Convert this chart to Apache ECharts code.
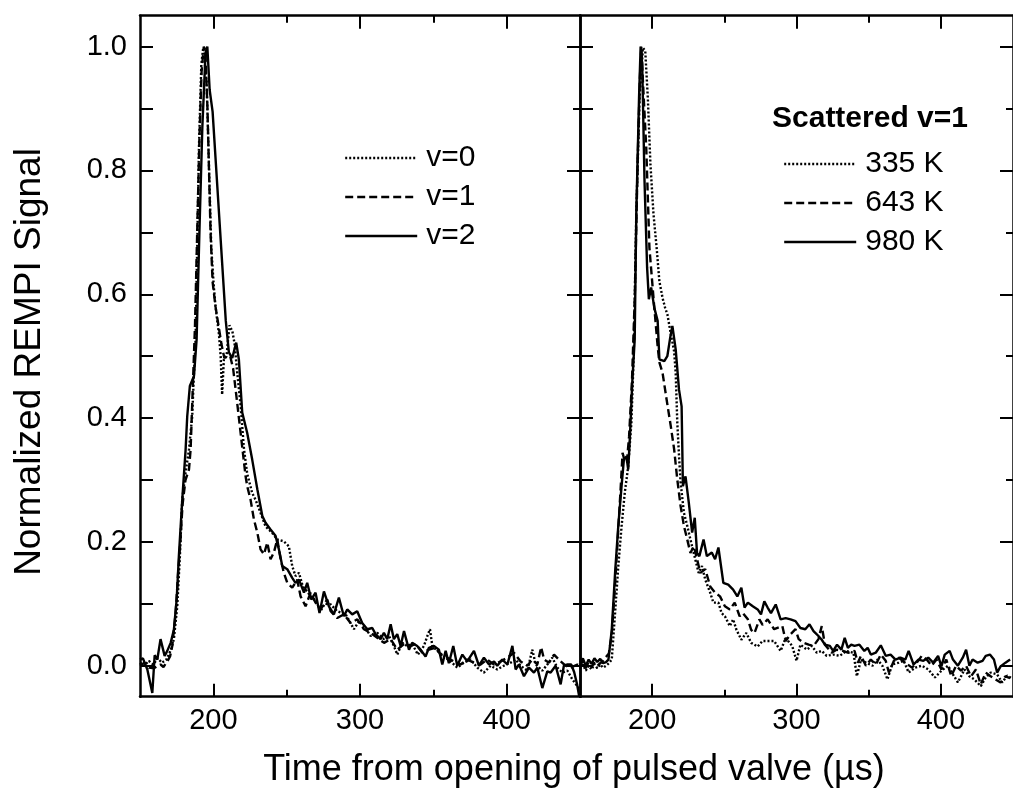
<!DOCTYPE html>
<html>
<head>
<meta charset="utf-8">
<script src="https://cdn.jsdelivr.net/npm/echarts@6/dist/echarts.min.js"></script>
<style>html,body{margin:0;padding:0;background:#fff}#c{width:1013px;height:796px}</style>
</head>
<body>
<div id="c"></div>
<script>
// ---------- axis ranges & ticks ----------
const xRange = [150, 450];
const yRange = [-0.05, 1.05];
const xMajorTicks = [200, 300, 400];
const xMinorTicks = [250, 350];
const yAllTicks = [0, 0.1, 0.2, 0.3, 0.4, 0.5, 0.6, 0.7, 0.8, 0.9, 1.0];
const yMajorTicks = [0, 0.2, 0.4, 0.6, 0.8, 1.0];
const yMinorTicks = [0.1, 0.3, 0.5, 0.7, 0.9];

// ---------- labels ----------
const leftNames = ['v=0', 'v=1', 'v=2'];
const rightNames = ['335 K', '643 K', '980 K'];
const rightLegendTitle = 'Scattered v=1';
const xTitle = 'Time from opening of pulsed valve (µs)';
const yTitle = 'Normalized REMPI Signal';

// ---------- left panel data [time µs, signal] ----------
const leftV0 = [[150,0.005],[153,0.0],[156,0.008],[159,0.002],[162,0.012],[165,0.005],[168,0.01],[171,0.025],[173.1,0.043],[175.4,0.096],[177.2,0.177],[178.8,0.268],[181,0.311],[183.4,0.349],[185.6,0.403],[186.8,0.473],[187.9,0.527],[189,0.675],[190.2,0.837],[191.8,0.971],[193.1,0.998],[194.3,1.0],[195.4,0.944],[197,0.81],[198.6,0.675],[200.4,0.61],[201.5,0.58],[203.8,0.536],[205,0.50],[206,0.438],[207.2,0.495],[209,0.50],[211,0.55],[213,0.54],[214.5,0.52],[216.3,0.473],[218.6,0.42],[220.9,0.35],[223.1,0.31],[226.5,0.279],[228.8,0.268],[232.2,0.247],[235.6,0.225],[240,0.215],[243.6,0.204],[248,0.201],[251.5,0.193],[253.8,0.161],[256,0.145],[258.4,0.15],[261,0.128],[264,0.12],[267,0.110],[270,0.105],[273,0.088],[276,0.100],[280,0.099],[284.5,0.088],[290.2,0.083],[295.9,0.059],[299.3,0.072],[302.7,0.064],[307.3,0.048],[311.8,0.053],[316.4,0.043],[319.8,0.048],[323.1,0.032],[325.4,0.018],[328.8,0.037],[332.2,0.032],[335.6,0.035],[339.5,0.018],[343.6,0.032],[345.9,0.048],[347.7,0.059],[349.3,0.032],[352.7,0.024],[357.2,0.015],[361.8,0.007],[366.3,-0.003],[370.9,0.005],[375.4,0.010],[380,-0.003],[384.5,-0.011],[389.1,0.0],[393.6,-0.006],[398.1,0.0],[402.7,0.005],[406.1,0.010],[409.5,0.0],[414.1,-0.008],[417.5,0.026],[419.8,0.002],[424.3,-0.008],[427.7,0.002],[431.1,0.013],[434.5,-0.003],[438,-0.011],[441.4,-0.008],[444.8,-0.022],[448.2,-0.033],[450,-0.04]];
const leftV1 = [[150,0.0],[153,0.005],[156,-0.003],[159.5,-0.004],[162,0.0],[164,0.002],[166,-0.002],[168.6,0.007],[170.5,0.015],[172,0.032],[174.3,0.085],[176,0.15],[177.5,0.2],[179,0.26],[181,0.30],[183.4,0.317],[184.5,0.349],[186,0.45],[187.5,0.55],[189,0.7],[190.5,0.85],[192,0.96],[193.5,1.0],[194.5,0.995],[196,0.90],[198.1,0.70],[199.5,0.62],[201.5,0.58],[203.5,0.55],[205.5,0.52],[207.5,0.497],[209.5,0.50],[211.5,0.50],[213.5,0.48],[216,0.43],[218.6,0.376],[222,0.306],[223.1,0.29],[225.4,0.268],[227.7,0.236],[230,0.215],[232.2,0.188],[234.5,0.180],[236.8,0.199],[239,0.172],[241.3,0.183],[243.6,0.204],[245.9,0.172],[248.1,0.150],[250.4,0.134],[253.8,0.126],[257.2,0.139],[259.5,0.112],[262.9,0.096],[266.3,0.118],[269.7,0.102],[273.1,0.091],[277.7,0.107],[280,0.088],[284.5,0.077],[289,0.083],[293.6,0.069],[298.2,0.075],[302.7,0.059],[307.3,0.053],[311.8,0.045],[316.4,0.037],[320.9,0.043],[325.4,0.026],[330,0.035],[334.5,0.032],[338,0.035],[342.5,0.021],[347,0.026],[351.6,0.029],[355,0.018],[359.5,0.013],[364.1,0.007],[368.6,0.002],[373.1,0.010],[377.7,0.005],[382.2,0.002],[386.8,0.010],[391.3,0.002],[395.9,0.007],[400.5,0.013],[405,0.021],[409.5,0.007],[414.1,0.0],[417.5,0.010],[420.9,0.002],[423.5,0.03],[425.5,0.010],[428.9,0.005],[432.3,0.018],[436.8,0.007],[440.2,0.0],[443.6,-0.003],[448.2,0.002],[450,0.0]];
const leftV2 = [[150,0.01],[152,0.012],[155,-0.006],[158.4,-0.044],[160,0.017],[161.8,0.010],[164,0.043],[166.8,0.016],[168.6,0.024],[170.9,0.037],[173.1,0.058],[175,0.107],[176.5,0.177],[178.8,0.268],[181.1,0.349],[182.2,0.403],[184,0.452],[186.8,0.468],[188.6,0.527],[190.5,0.70],[192.5,0.87],[194.7,0.99],[195.9,1.0],[197.5,0.93],[199.5,0.895],[208.5,0.557],[210.6,0.506],[212.9,0.497],[215.6,0.522],[217.4,0.495],[219.7,0.409],[223.1,0.376],[226.5,0.333],[230,0.285],[233.4,0.242],[235.6,0.231],[239,0.22],[242.4,0.21],[244.7,0.188],[247,0.161],[250.4,0.156],[253.8,0.142],[256,0.134],[258.4,0.139],[261.8,0.118],[264,0.134],[266.8,0.107],[269.7,0.118],[272.4,0.085],[275.4,0.120],[278.8,0.096],[282.2,0.083],[285.6,0.110],[289,0.080],[291.3,0.091],[294.7,0.083],[298.1,0.088],[301.5,0.069],[305,0.059],[308.4,0.061],[310.6,0.051],[314,0.043],[316.3,0.053],[318.6,0.043],[320.9,0.067],[323.1,0.043],[325.4,0.051],[327.7,0.032],[330,0.056],[333.4,0.026],[335.6,0.037],[339,0.032],[341.3,0.026],[344.7,0.015],[347,0.029],[350.4,0.032],[353.8,0.026],[356.1,0.002],[358.4,0.024],[360.6,0.004],[363.6,0.032],[366.3,0.0],[369.8,0.018],[373.1,0.007],[377.7,0.024],[381.1,0.0],[384.5,0.013],[388,0.002],[391.4,0.007],[393.6,0.0],[397,0.010],[400.5,0.002],[403.9,0.032],[406.1,-0.006],[408.4,0.002],[411.8,-0.017],[415.2,-0.003],[418.6,-0.011],[420.9,-0.003],[424.3,-0.036],[427.7,-0.009],[430,-0.011],[433.4,0.0],[436.8,-0.030],[439,0.0],[441.5,0.002],[444,0.002],[446,-0.01],[448,-0.03],[449.5,-0.05]];

// ---------- right panel data [time µs, signal] ----------
const right335 = [[150,-0.005],[152,0.002],[154,-0.008],[156,0.0],[158,-0.006],[160,0.003],[162,-0.004],[164,0.002],[166,-0.003],[168,0.0],[170,0.004],[172,0.010],[174.3,0.085],[176.5,0.16],[178.8,0.225],[181,0.279],[183.4,0.322],[185.6,0.392],[187.2,0.5],[189,0.73],[191.3,0.917],[193.6,0.998],[195.2,0.993],[197,0.917],[198.8,0.81],[200.9,0.73],[203.1,0.675],[205,0.621],[207.2,0.594],[209,0.578],[210.6,0.567],[212.9,0.536],[215.2,0.508],[216.3,0.473],[217.4,0.393],[218.6,0.339],[219.7,0.296],[222,0.247],[224.3,0.226],[226.5,0.204],[228.8,0.182],[232.2,0.150],[234.5,0.161],[236.8,0.139],[240.2,0.118],[242.4,0.102],[245.9,0.102],[248.1,0.085],[250.4,0.080],[253.8,0.064],[256.1,0.075],[258.4,0.058],[261.8,0.042],[265.2,0.053],[268.6,0.037],[273.1,0.031],[276.5,0.040],[280,0.04],[284.5,0.040],[289,0.024],[292.5,0.045],[297,0.032],[300,0.008],[302.7,0.034],[307.2,0.026],[310.6,0.032],[314.1,0.021],[317.5,0.024],[320.9,0.016],[325.4,0.018],[330,0.016],[334.5,0.024],[339.5,0.021],[341.8,-0.017],[344.7,0.010],[348.1,0.005],[352.7,0.0],[356.1,0.010],[359.5,0.0],[363,-0.022],[366.3,0.002],[370.9,0.005],[374.3,0.008],[377.7,-0.011],[382.2,-0.003],[386.8,0.0],[391.3,-0.006],[395.9,-0.019],[400.4,-0.008],[405,0.0],[408.4,-0.014],[411.8,-0.027],[416.4,-0.006],[419.8,-0.017],[423.2,-0.022],[427.7,-0.033],[431.1,-0.019],[434.5,-0.011],[439,-0.014],[442.5,-0.027],[445.9,-0.016],[449,-0.02]];
const right643 = [[150,0.0],[152,0.008],[154,-0.004],[156,0.006],[158,-0.002],[160,0.005],[162,0.0],[164,0.004],[166,0.008],[168,0.014],[170,0.02],[172,0.05],[174,0.12],[176,0.20],[178,0.28],[179.5,0.344],[181,0.33],[182.5,0.33],[184,0.37],[186,0.46],[188,0.60],[190,0.82],[191.5,0.95],[192.5,1.0],[193.6,0.944],[195.9,0.837],[198.1,0.675],[201.5,0.578],[203.8,0.516],[205,0.49],[207.2,0.473],[210,0.43],[212.9,0.387],[215.2,0.35],[217.4,0.301],[219.7,0.258],[222,0.226],[224.3,0.204],[226.5,0.182],[228.8,0.193],[231.1,0.172],[233.4,0.150],[236.8,0.156],[240.2,0.128],[243.6,0.118],[247,0.112],[250.4,0.096],[253.8,0.091],[257.2,0.102],[260.6,0.080],[262.9,0.085],[266.3,0.075],[268.6,0.058],[270.9,0.053],[274.3,0.075],[276.5,0.066],[280,0.075],[284.5,0.059],[290.2,0.064],[292.5,0.040],[295.9,0.051],[299.3,0.059],[301.5,0.043],[305,0.037],[308.4,0.034],[311.8,0.032],[315.2,0.043],[317.5,0.064],[319.7,0.034],[324.3,0.021],[327.7,0.026],[332.2,0.024],[335.6,0.021],[340.2,0.024],[342.5,0.005],[344.7,0.016],[348.1,0.0],[351.5,0.010],[355,0.002],[358.4,0.018],[361.8,0.008],[364,-0.011],[367.5,0.008],[370.9,0.013],[375.4,0.005],[380,-0.003],[383.4,0.005],[386.8,0.016],[390.2,0.010],[393.6,0.0],[397,0.010],[400.4,-0.006],[403.8,0.010],[407.2,-0.017],[410.6,0.0],[414,-0.008],[417.5,0.0],[420.9,-0.017],[424.3,-0.006],[427.7,-0.03],[431.1,-0.011],[434.5,-0.017],[437.9,-0.022],[441.4,-0.027],[444.8,-0.017],[448,-0.02]];
const right980 = [[150,0.005],[152,0.012],[154,0.0],[156,0.010],[158,0.003],[160,0.012],[162,0.006],[164,0.011],[166,0.004],[168,0.006],[169.7,0.010],[172,0.058],[174.3,0.15],[176.5,0.225],[178.8,0.29],[180.4,0.333],[182.2,0.338],[183.4,0.317],[184.5,0.366],[186.3,0.462],[187.9,0.527],[189,0.73],[190.9,0.917],[192,1.0],[193.1,0.971],[194.7,0.783],[196.5,0.643],[197.7,0.592],[199.3,0.611],[201.5,0.578],[203.8,0.557],[205,0.495],[208.4,0.492],[210.5,0.50],[212.5,0.53],[214,0.549],[216.3,0.511],[218.6,0.446],[220.4,0.419],[221.3,0.29],[223.1,0.306],[225.4,0.263],[227.7,0.215],[229.5,0.239],[231.1,0.182],[232.7,0.177],[235.6,0.204],[237.9,0.177],[241.3,0.183],[243.6,0.172],[245.9,0.191],[249.3,0.134],[252.7,0.131],[256.1,0.123],[259,0.112],[261.8,0.126],[264,0.094],[266.3,0.102],[269.7,0.096],[273.1,0.091],[275.4,0.083],[277.7,0.104],[280,0.094],[282.3,0.085],[285.6,0.099],[289,0.075],[292.5,0.077],[295.9,0.075],[299.3,0.072],[302.7,0.061],[306.1,0.059],[309,0.067],[311.8,0.056],[315.2,0.048],[317.5,0.042],[319.7,0.034],[323.1,0.032],[325.4,0.024],[328.1,0.034],[331.1,0.026],[333.4,0.045],[335.6,0.029],[337.9,0.034],[340.2,0.032],[343.6,0.034],[347,0.024],[349.3,0.029],[351.5,0.018],[354.9,0.021],[358.4,0.033],[361.8,0.016],[365.2,0.018],[368.6,0.010],[372,0.013],[375.4,0.010],[377.7,0.024],[381.1,0.002],[384.5,0.010],[387.9,0.008],[391.3,0.013],[394.7,0.005],[398.1,0.016],[400.4,-0.001],[402.7,0.018],[406.1,0.024],[408.4,0.010],[411.8,0.0],[415.2,0.013],[417.5,0.026],[419.8,0.0],[422,0.010],[425.5,0.005],[428.9,0.008],[431.1,0.016],[434,0.018],[436.8,0.010],[439,-0.011],[441.4,-0.001],[444.8,0.005],[448,0.01]];

// ---------- styling ----------
const FONT = "'Liberation Sans', Arial, Helvetica, sans-serif";
const BLACK = '#000';
const DOT = [2, 2];
const DASH = [8, 4];
const axisLineStyle = { color: BLACK, width: 2.5 };
const tickLineStyle = { color: BLACK, width: 2 };

function makeXAxes(g) {
  const base = { gridIndex: g, type: 'value', min: xRange[0], max: xRange[1], splitLine: { show: false } };
  return [
    Object.assign({}, base, { position: 'bottom', axisLine: { show: true, onZero: false, lineStyle: axisLineStyle },
      axisTick: { show: true, inside: true, length: 13, customValues: xMajorTicks, lineStyle: tickLineStyle },
      axisLabel: { show: true, customValues: xMajorTicks, fontSize: 29, color: BLACK, fontFamily: FONT, margin: 10 } }),
    Object.assign({}, base, { position: 'bottom', axisLine: { show: false, onZero: false },
      axisTick: { show: true, inside: true, length: 7, customValues: xMinorTicks, lineStyle: tickLineStyle },
      axisLabel: { show: false } }),
    Object.assign({}, base, { position: 'top', axisLine: { show: true, onZero: false, lineStyle: axisLineStyle },
      axisTick: { show: true, inside: true, length: 13, customValues: xMajorTicks, lineStyle: tickLineStyle },
      axisLabel: { show: false } }),
    Object.assign({}, base, { position: 'top', axisLine: { show: false, onZero: false },
      axisTick: { show: true, inside: true, length: 7, customValues: xMinorTicks, lineStyle: tickLineStyle },
      axisLabel: { show: false } })
  ];
}
function makeYAxes(g) {
  const base = { gridIndex: g, type: 'value', min: yRange[0], max: yRange[1], splitLine: { show: false } };
  return [
    Object.assign({}, base, { position: 'left', axisLine: { show: true, onZero: false, lineStyle: axisLineStyle },
      axisTick: { show: true, inside: true, length: 13, customValues: yAllTicks, lineStyle: tickLineStyle },
      axisLabel: { show: g === 0, customValues: yMajorTicks, fontSize: 29, color: BLACK, fontFamily: FONT, margin: 13,
        formatter: v => Number(v).toFixed(1) } }),
    Object.assign({}, base, { position: 'right', axisLine: { show: true, onZero: false, lineStyle: axisLineStyle },
      axisTick: { show: true, inside: true, length: 13, customValues: yMajorTicks, lineStyle: tickLineStyle },
      axisLabel: { show: false } }),
    Object.assign({}, base, { position: 'right', axisLine: { show: false, onZero: false },
      axisTick: { show: true, inside: true, length: 7, customValues: yMinorTicks, lineStyle: tickLineStyle },
      axisLabel: { show: false } })
  ];
}

function lineSeries(name, data, g, dash) {
  return {
    name: name, type: 'line', data: data, xAxisIndex: g * 4, yAxisIndex: g * 3,
    symbol: 'none', showSymbol: false, clip: true, animation: false,
    lineStyle: { color: BLACK, width: 2.4, type: dash || 'solid' },
    itemStyle: { color: BLACK }
  };
}

const legendText = { fontSize: 30, color: BLACK, fontFamily: FONT, lineHeight: 30, padding: [0, 0, 0, 4] };
const legendCommon = { orient: 'vertical', padding: 0, itemWidth: 72, itemHeight: 14, itemGap: 9,
  selectedMode: false, textStyle: legendText, itemStyle: { opacity: 0 }, lineStyle: { width: 2.4, opacity: 1 } };

const chart = echarts.init(document.getElementById('c'), null, { renderer: 'canvas' });
chart.setOption({
  animation: false,
  backgroundColor: '#fff',
  grid: [
    { left: 140, top: 15.7, width: 440, height: 681 },
    { left: 580, top: 15.7, width: 440, height: 681 }
  ],
  xAxis: makeXAxes(0).concat(makeXAxes(1)),
  yAxis: makeYAxes(0).concat(makeYAxes(1)),
  legend: [
    Object.assign({}, legendCommon, { left: 344, top: 143, data: leftNames }),
    Object.assign({}, legendCommon, { left: 783, top: 149, data: rightNames })
  ],
  graphic: [
    { type: 'text', left: 772, top: 104, style: { text: rightLegendTitle, font: "bold 30px " + FONT, fill: BLACK } },
    { type: 'text', x: 30, y: 362, rotation: Math.PI / 2,
      style: { text: yTitle, font: "37px " + FONT, fill: BLACK, align: 'center', verticalAlign: 'middle' } },
    { type: 'text', x: 574, y: 770,
      style: { text: xTitle, font: "36px " + FONT, fill: BLACK, align: 'center', verticalAlign: 'middle' } }
  ],
  series: [
    lineSeries(leftNames[0], leftV0, 0, DOT),
    lineSeries(leftNames[1], leftV1, 0, DASH),
    lineSeries(leftNames[2], leftV2, 0, 'solid'),
    lineSeries(rightNames[0], right335, 1, DOT),
    lineSeries(rightNames[1], right643, 1, DASH),
    lineSeries(rightNames[2], right980, 1, 'solid')
  ]
});
</script>
</body>
</html>
